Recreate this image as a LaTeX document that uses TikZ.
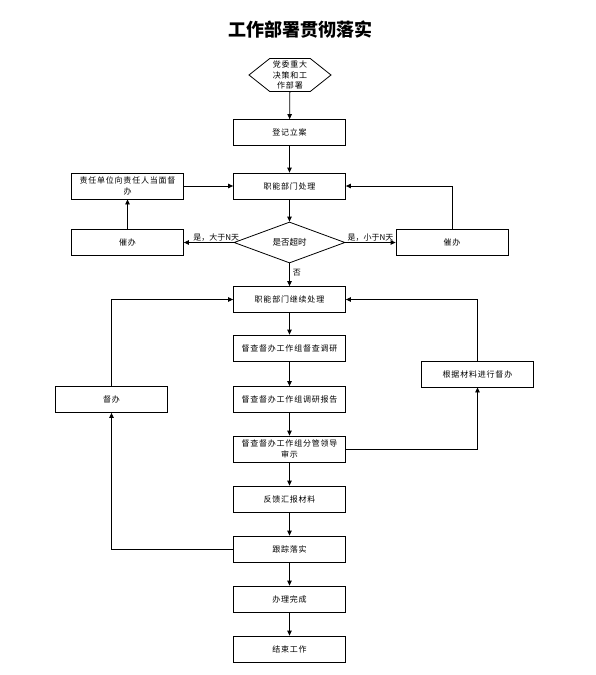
\documentclass[tikz,border=0pt]{standalone}
\usepackage{fontspec}
\setmainfont{Noto Sans CJK SC}
\newfontfamily\boxfont[LetterSpace=10]{Noto Sans CJK SC}
\usetikzlibrary{shapes.geometric, shapes.symbols, arrows.meta, positioning}

\begin{document}
\begin{tikzpicture}[
    x=1pt, y=-1pt,
    box/.style={rectangle, draw, line width=0.8pt, minimum width=112pt,
                minimum height=26pt, font=\boxfont\fontsize{8}{10.5}\selectfont,
                align=center, inner sep=1pt},
    hexa/.style={signal, signal to=east and west, signal pointer angle=77,
                 draw, line width=0.8pt, minimum width=82pt, minimum height=33pt,
                 font=\boxfont\fontsize{8}{10.5}\selectfont, align=center, inner sep=0pt},
    decide/.style={diamond, draw, line width=0.8pt, aspect=2.7, inner sep=0pt,
                   minimum width=111pt, minimum height=41pt,
                   font=\fontsize{8.5}{10}\selectfont},
    arrow/.style={-{Triangle[length=5pt, width=4.5pt]}, line width=0.8pt},
    tag/.style={font=\fontsize{8}{10}\selectfont, inner sep=1pt},
]
\useasboundingbox (0,0) rectangle (596,675);

% ── Title ──
\node[font=\fontsize{18}{20}\selectfont\bfseries] (title) at (300,30) {工作部署贯彻落实};

% ── Main column ──
\node[hexa] (start) at (290,75) {党委重大\\决策和工\\作部署};
\node[box] (reg) at (289.5,132.5) {登记立案};
\node[box] (deal) at (289.5,186) {职能部门处理};
\node[decide] (overtime) at (289.5,242.5) {是否超时};
\node[box] (cont) at (289.5,299.5) {职能部门继续处理};
\node[box] (survey) at (289.5,348) {督查督办工作组督查调研};
\node[box] (report) at (289.5,399.5) {督查督办工作组调研报告};
\node[box] (review) at (289.5,449) {督查督办工作组分管领导\\审示};
\node[box] (feedback) at (289.5,499) {反馈汇报材料};
\node[box] (track) at (289.5,549) {跟踪落实};
\node[box] (done) at (289.5,599) {办理完成};
\node[box] (finish) at (289.5,649) {结束工作};

% ── Side boxes ──
\node[box] (face) at (127.5,186) {责任单位向责任人当面督\\办};
\node[box] (urgeL) at (127.5,242.5) {催办};
\node[box] (urgeR) at (452,242.5) {催办};
\node[box] (material) at (477.5,374) {根据材料进行督办};
\node[box] (supervise) at (111.5,399.5) {督办};

% ── Arrows ──
\draw[arrow] (start) -- (reg);
\draw[arrow] (reg) -- (deal);
\draw[arrow] (deal) -- (overtime);
\draw[arrow] (overtime) -- (cont) node[tag, pos=0.4, right=2pt] {否};
\draw[arrow] (overtime.west) -- (urgeL.east) node[tag, pos=0.35, above] {是，大于N天};
\draw[arrow] (overtime.east) -- (urgeR.west) node[tag, midway, above] {是，小于N天};
\draw[arrow] (urgeL) -- (face);
\draw[arrow] (face) -- (deal);
\draw[arrow] (urgeR.north) |- (deal.east);
\draw[arrow] (cont) -- (survey);
\draw[arrow] (survey) -- (report);
\draw[arrow] (report) -- (review);
\draw[arrow] (review) -- (feedback);
\draw[arrow] (feedback) -- (track);
\draw[arrow] (track) -- (done);
\draw[arrow] (done) -- (finish);
\draw[arrow] (review.east) -| (material.south);
\draw[arrow] (material.north) |- (cont.east);
\draw[arrow] (supervise.north) |- (cont.west);
\draw[arrow] (track.west) -| (supervise.south);

\end{tikzpicture}
\end{document}
